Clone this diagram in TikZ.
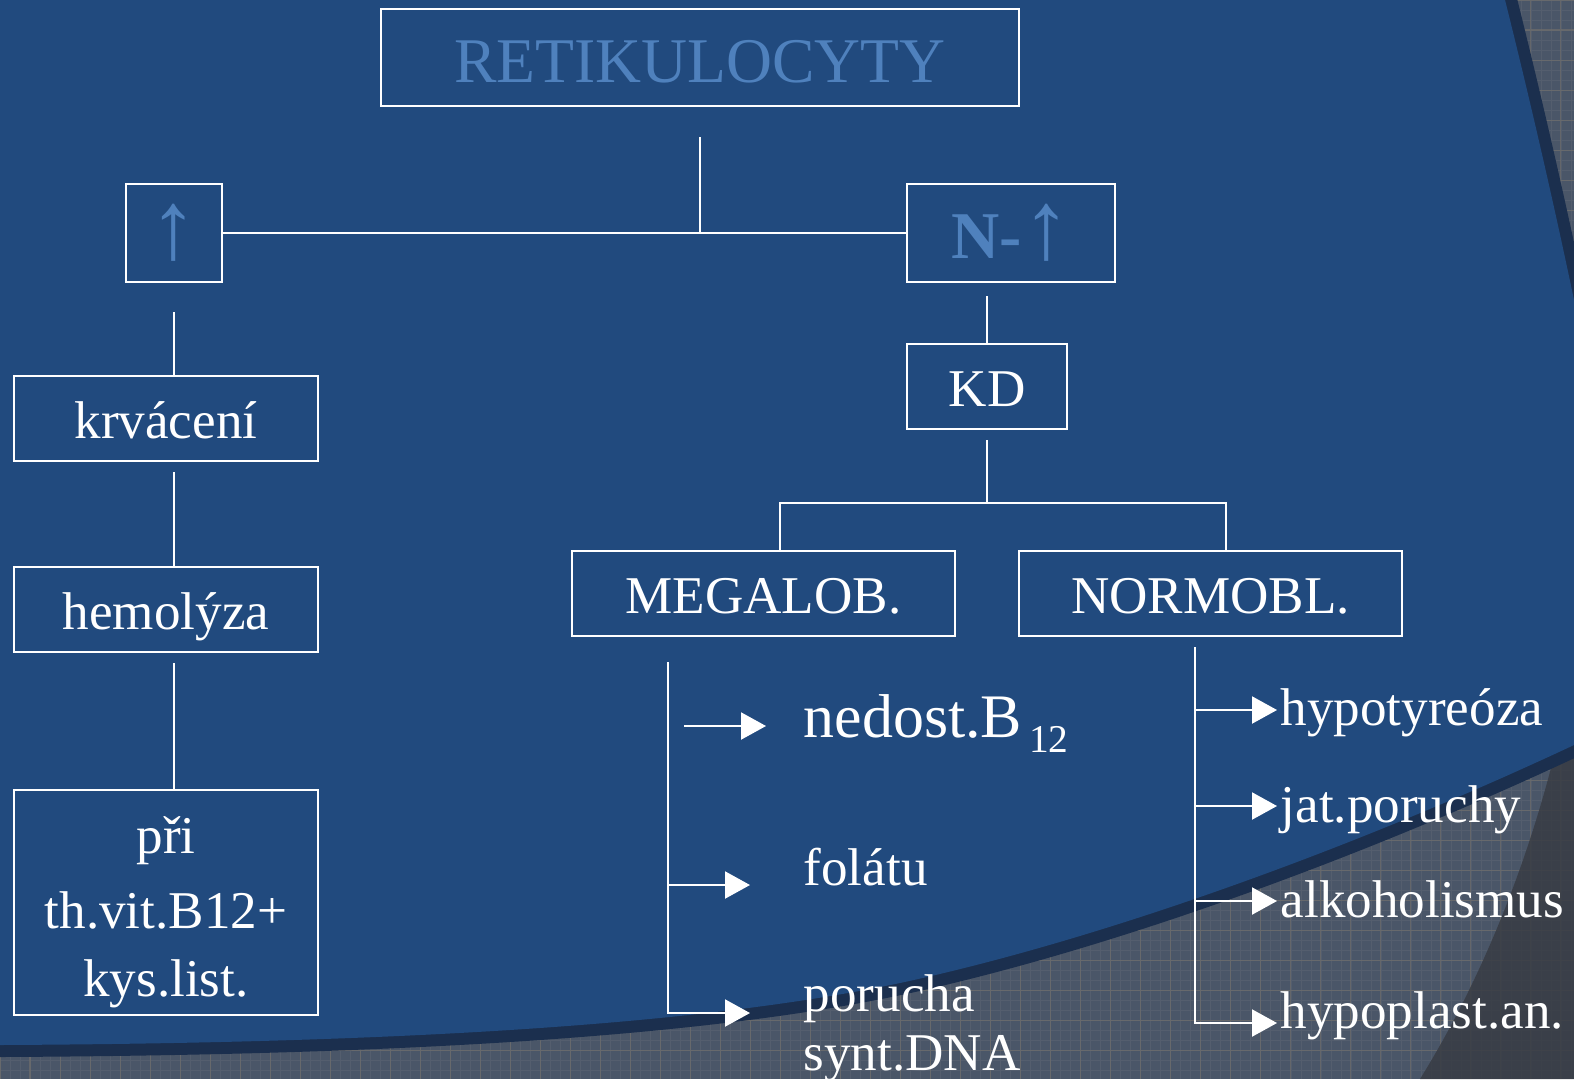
\documentclass[tikz,border=0pt]{standalone}
\usepackage{fontspec}
\setmainfont{Liberation Serif}
\usepackage{tikz}
\usetikzlibrary{arrows.meta}

\definecolor{slideblue}{RGB}{33,74,126}
\definecolor{titleblue}{RGB}{79,129,189}
\definecolor{greyfield}{RGB}{74,86,104}
\definecolor{greycorner}{RGB}{56,60,68}
\definecolor{gridline}{RGB}{92,100,114}
\definecolor{gridbeige}{RGB}{112,110,108}
\definecolor{edgeshade}{RGB}{27,47,78}

\begin{document}
\begin{tikzpicture}[x=0.01cm, y=-0.01cm,
    box/.style={draw=white, line width=0.6pt, inner sep=0pt, text=white,
      font=\fontsize{15.1}{19.3}\selectfont},
    oneline/.style={text height=0.4cm, text depth=0pt},
    item/.style={anchor=base west, inner sep=0pt, text=white,
      font=\fontsize{15.1}{16.5}\selectfont},
    link/.style={white, line width=0.6pt},
    arr/.style={white, line width=0.6pt, -{Triangle[length=0.25cm, width=0.27cm]}}]
  \useasboundingbox (0,0) rectangle (1574,1079);

  % background of the slide
  \fill[greyfield] (0,0) rectangle (1574,1079);
  \draw[gridline, line width=0.2pt, step=0.1cm, opacity=0.6] (0,0) grid (1574,1079);
  \draw[gridbeige, line width=0.3pt, step=0.3cm, opacity=0.7] (0,0) grid (1574,1079);
  \fill[greycorner, opacity=0.85] (1574,663) .. controls (1550,800) and (1500,950) .. (1420,1079) -- (1574,1079) -- cycle;
  \draw[edgeshade, line width=0.24cm] (0,1045) .. controls (400,1043) and (700,1025) .. (900,983)
    .. controls (1100,940) and (1350,850) .. (1574,745);
  \draw[edgeshade, line width=0.24cm] (1505,0) .. controls (1530,100) and (1553,200) .. (1574,300);
  \fill[slideblue] (0,0) -- (1505,0) .. controls (1530,100) and (1553,200) .. (1574,300) -- (1574,745)
    .. controls (1350,850) and (1100,940) .. (900,983) .. controls (700,1025) and (400,1043) .. (0,1045) -- cycle;

  % boxes
  \node[box, minimum width=6.38cm, minimum height=0.97cm, text=titleblue, text height=0.5cm, text depth=0pt,
    font=\fontsize{18.1}{20}\selectfont] (ret) at (700,57.5) {RETIKULOCYTY};
  \node[box, minimum width=0.96cm, minimum height=0.98cm, text=titleblue, text height=0.5cm, text depth=0pt,
    font=\fontsize{27.5}{28}\selectfont] (up) at (174,233) {↑};
  \node[box, minimum width=2.08cm, minimum height=0.98cm, text=titleblue, text height=0.5cm, text depth=0pt,
    font=\fontsize{19}{20}\selectfont] (nup) at (1011,233) {\textbf{N-}{\fontsize{27.5}{28}\selectfont↑}};
  \node[box, oneline, minimum width=3.04cm, minimum height=0.85cm] (krv) at (166,418.5) {krvácení};
  \node[box, oneline, minimum width=3.04cm, minimum height=0.85cm] (hem) at (166,609.5) {hemolýza};
  \node[box, minimum width=3.04cm, minimum height=2.25cm, align=center]
    (pri) at (166,902.5) {\rule{0pt}{0.56cm}při\\[0.07cm]th.vit.B12+\\kys.list.};
  \node[box, oneline, minimum width=1.6cm, minimum height=0.85cm] (kd) at (987,386.5) {KD};
  \node[box, oneline, minimum width=3.83cm, minimum height=0.85cm] (meg) at (763.5,593.5) {MEGALOB.};
  \node[box, oneline, minimum width=3.83cm, minimum height=0.85cm] (norm) at (1210.5,593.5) {NORMOBL.};

  % tree lines
  \draw[link] (ret.south) ++(0,30) -- (ret.south |- up);
  \draw[link] (up) -- (nup);
  \draw[link] ([yshift=-0.29cm]up.south) -- (up.south |- krv.north);
  \draw[link] ([yshift=-0.1cm]krv.south -| up.south) -- (up.south |- hem.north);
  \draw[link] ([yshift=-0.1cm]hem.south -| up.south) -- (up.south |- pri.north);
  \draw[link] ([yshift=-0.13cm]nup.south -| kd.north) -- (kd.north);
  \coordinate (fork) at (987,503);
  \coordinate (megjoin) at (780,503);
  \coordinate (normjoin) at (1226,503);
  \draw[link] ([yshift=-0.1cm]kd.south) -- (fork);
  \draw[link] (megjoin |- meg.north) -- (megjoin) -- (normjoin) -- (normjoin |- norm.north);

  % megaloblastic causes
  \coordinate (megtop) at (668,662);
  \coordinate (mb0) at (684,726);
  \coordinate (mb1) at (766,726);
  \coordinate (mb2) at (750,885);
  \coordinate (mb3) at (750,1013);
  \node[item, font=\fontsize{17.6}{20}\selectfont] (b12) at (803,737)
    {nedost.B\kern0.07cm\raisebox{-0.15cm}{\fontsize{11.2}{12}\selectfont 12}};
  \node[item] (fol) at (803,885) {folátu};
  \node[item, align=left] (dna) at (803,1070) {porucha\\synt.DNA};
  \draw[arr] (mb0) -- (mb1);
  \draw[arr] (megtop |- mb2) -- (mb2);
  \draw[arr] (megtop) |- (mb3);

  % normoblastic causes
  \coordinate (normtop) at (1195,647);
  \coordinate (nb1) at (1277,710);
  \coordinate (nb2) at (1277,806);
  \coordinate (nb3) at (1277,901);
  \coordinate (nb4) at (1277,1023);
  \node[item] (hypo) at (1280,725) {hypotyreóza};
  \node[item] (jat) at (1280,822) {jat.poruchy};
  \node[item] (alk) at (1280,917) {alkoholismus};
  \node[item] (hypl) at (1280,1028) {hypoplast.an.};
  \draw[arr] (normtop |- nb1) -- (nb1);
  \draw[arr] (normtop |- nb2) -- (nb2);
  \draw[arr] (normtop |- nb3) -- (nb3);
  \draw[arr] (normtop) |- (nb4);
\end{tikzpicture}
\end{document}
